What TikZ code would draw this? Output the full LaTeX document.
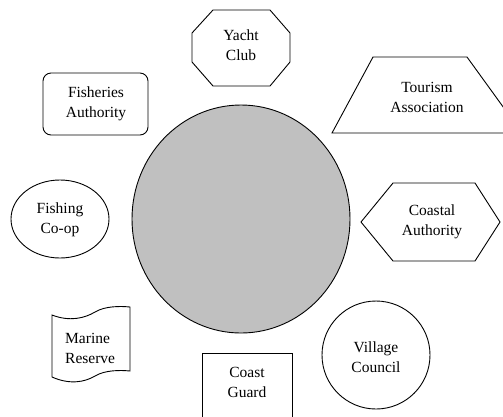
\documentclass[tikz,border=0pt]{standalone}
\usepackage{fontspec}
\setmainfont{Liberation Serif}
\begin{document}
\begin{tikzpicture}[x=1bp,y=-1bp,
  outline/.style={draw=black,line width=0.9bp,line join=miter},
  label/.style={font=\fontsize{15.5bp}{20bp}\selectfont,align=center,inner sep=0pt}]
\useasboundingbox (0,0) rectangle (503,416);
\clip (0,0) rectangle (503,416);

% central hub
\draw[outline,fill={rgb,255:red,192;green,192;blue,192}] (241,219) ellipse [x radius=109,y radius=114];

% Yacht Club: octagon
\draw[outline] (213,10) -- (270,10) -- (290,33) -- (290,62) -- (270,86) -- (213,86) -- (192,62) -- (192,33) -- cycle;
\node[label] (yacht) at (241,45) {Yacht\\Club};

% Tourism Association: trapezoid
\draw[outline] (373,57) -- (467,57) -- (522,133) -- (332,133) -- cycle;
\node[label] (tourism) at (427,97) {Tourism\\Association};

% Fisheries Authority: rounded box
\draw[outline,rounded corners=8bp] (43,73) rectangle (148,135);
\node[label] (fisheries) at (96,104) {Fisheries\\Authority};

% Fishing Co-op: ellipse
\draw[outline] (60,219) ellipse [x radius=49,y radius=39];
\node[label] (coop) at (60,220) {Fishing\\Co-op};

% Coastal Authority: hexagon
\draw[outline] (361,222) -- (393,183) -- (475,183) -- (500,222) -- (475,261) -- (393,261) -- cycle;
\node[label] (coastal) at (432,222) {Coastal\\Authority};

% Marine Reserve: tape
\draw[outline] (52,315) .. controls (70,322) and (85,318) .. (95,312)
  .. controls (105,306) and (120,306) .. (130,307) -- (130,371)
  .. controls (120,370) and (105,370) .. (95,376)
  .. controls (85,382) and (70,385) .. (52,377) -- cycle;
\node[label,align=left,anchor=west] (marine) at (65,348) {Marine\\Reserve};

% Coast Guard: box running off the lower edge
\draw[outline] (202,430) -- (202,353) -- (292,353) -- (292,430);
\node[label] (guard) at (247,382) {Coast\\Guard};

% Village Council: circle
\draw[outline] (376,355) circle [radius=54];
\node[label] (village) at (376,357) {Village\\Council};
\end{tikzpicture}
\end{document}
